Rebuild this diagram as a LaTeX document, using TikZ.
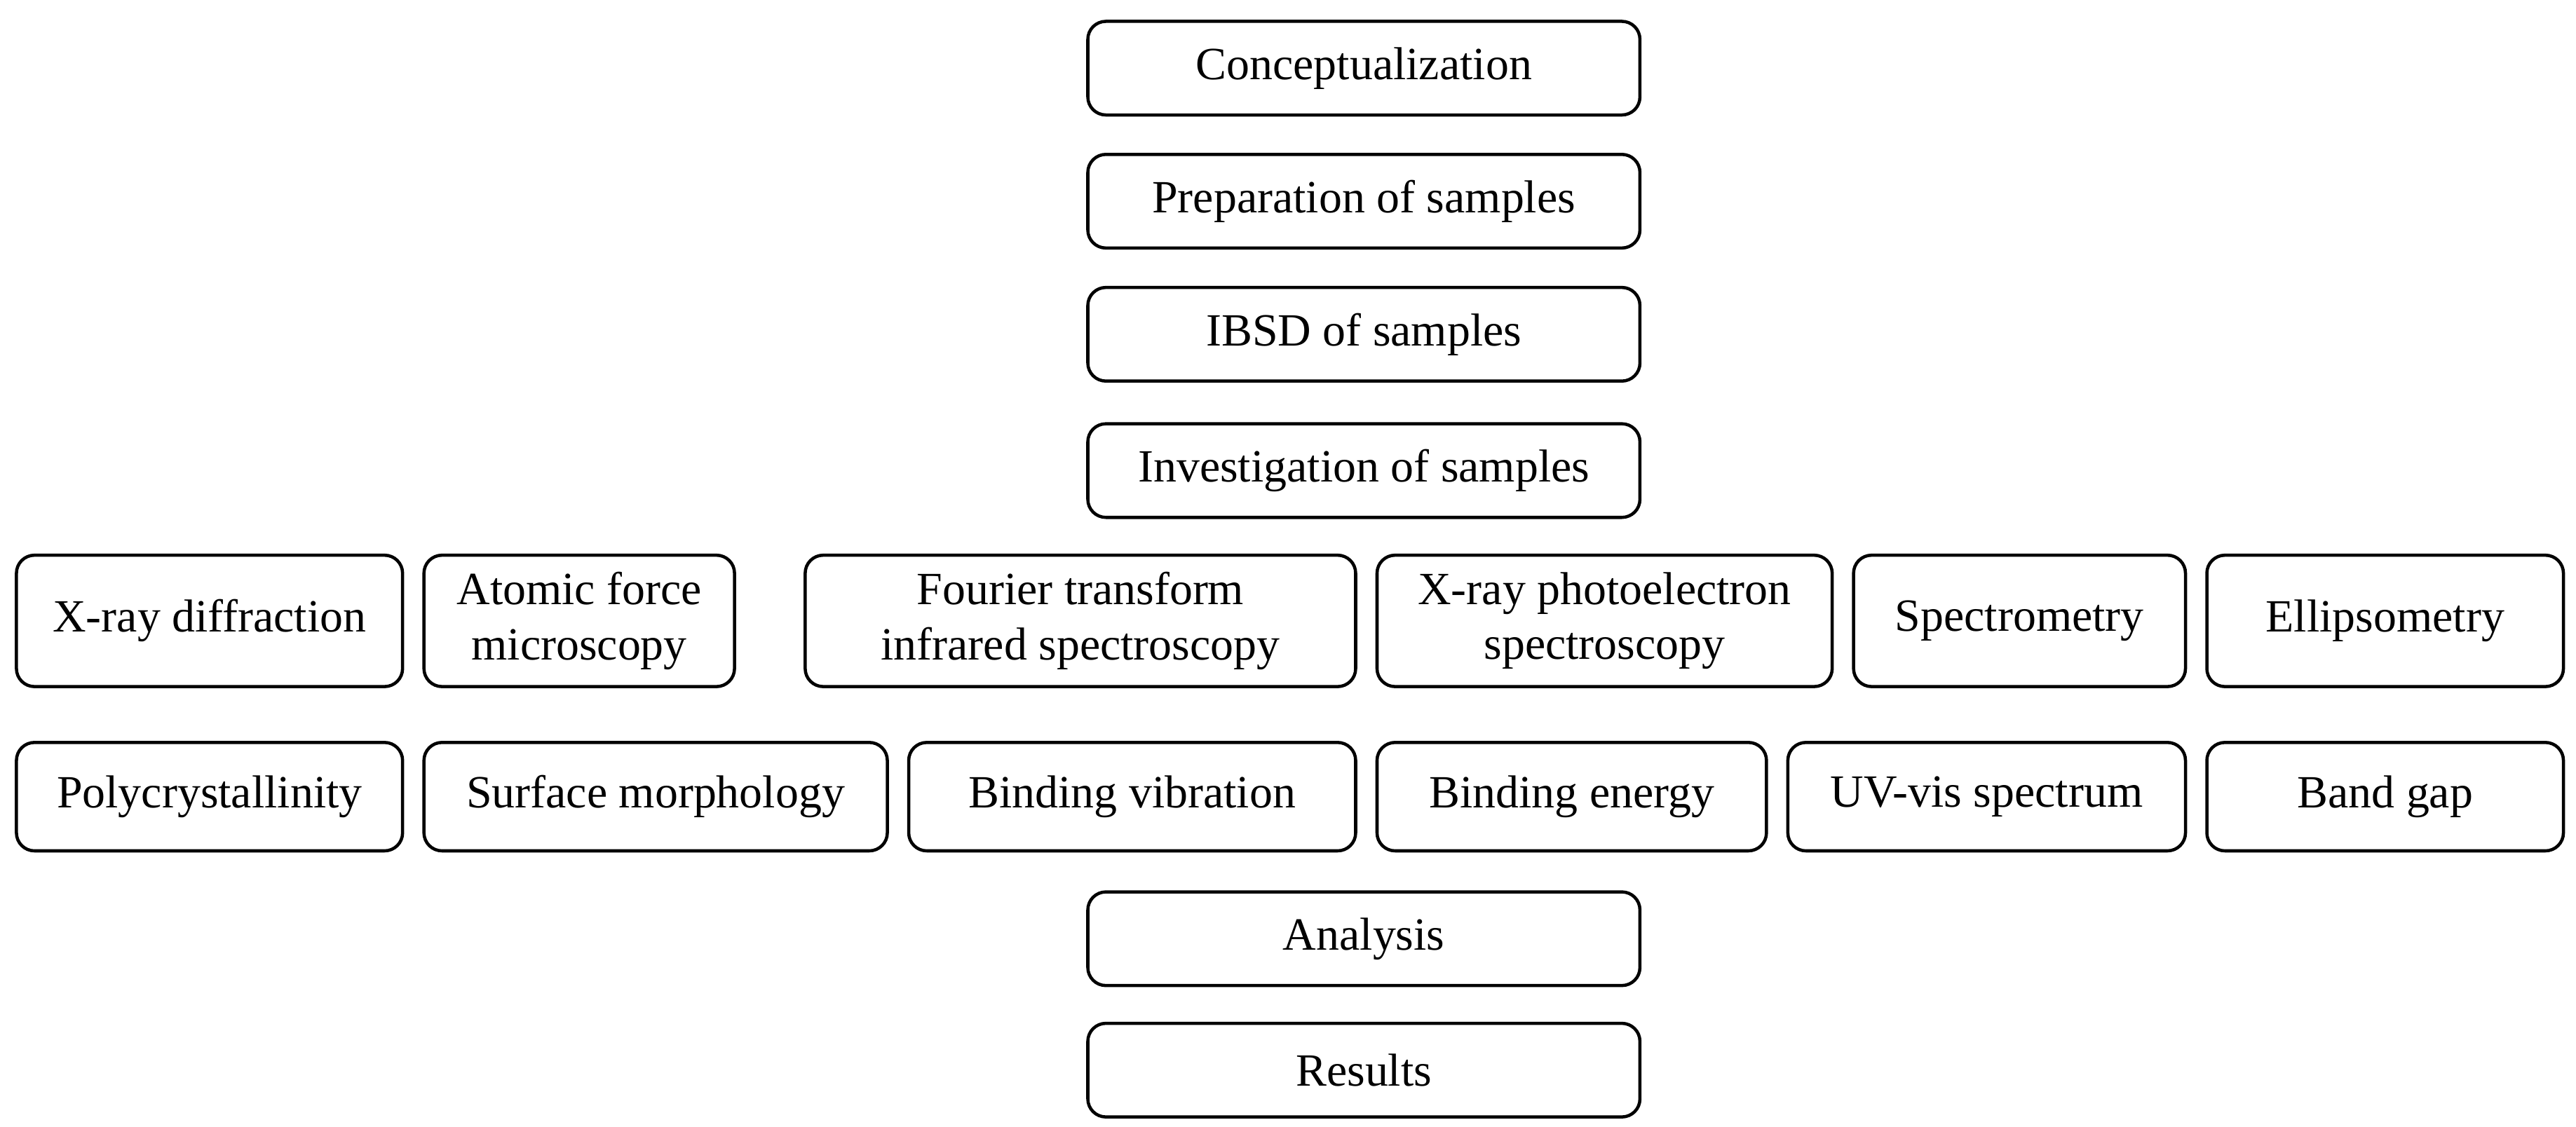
\documentclass[tikz,border=0pt]{standalone}
\usepackage{fontspec}
\setmainfont{Liberation Serif}
\newcommand\bx[6]{\node[box,minimum width={(#4-#2)*0.02cm},minimum height={(#5-#3)*0.02cm}] (#1) at ({(#2+#4)/2*0.02},{-(#3+#5)/2*0.02}) {#6};}
\begin{document}
\begin{tikzpicture}[box/.style={draw,line width=1.1pt,rounded corners=0.22cm,inner sep=2pt,align=center,font=\fontsize{16}{19}\selectfont}]
\useasboundingbox (0,0) rectangle (31.36,-13.72);
\bx{c}{662}{13}{998}{70}{Conceptualization}
\bx{p}{662}{94}{998}{151}{Preparation of samples}
\bx{i}{662}{175}{998}{232}{IBSD of samples}
\bx{v}{662}{258}{998}{315}{Investigation of samples}
\bx{a}{662}{543}{998}{600}{Analysis}
\bx{r}{662}{623}{998}{680}{Results}
\bx{m1}{10}{338}{245}{418}{X-ray diffraction}
\bx{m2}{258}{338}{447}{418}{Atomic force\\microscopy}
\bx{m3}{490}{338}{825}{418}{Fourier transform\\infrared spectroscopy}
\bx{m4}{838}{338}{1115}{418}{X-ray photoelectron\\spectroscopy}
\bx{m5}{1128}{338}{1330}{418}{Spectrometry}
\bx{m6}{1343}{338}{1560}{418}{Ellipsometry}
\bx{q1}{10}{452}{245}{518}{Polycrystallinity}
\bx{q2}{258}{452}{540}{518}{Surface morphology}
\bx{q3}{553}{452}{825}{518}{Binding vibration}
\bx{q4}{838}{452}{1075}{518}{Binding energy}
\bx{q5}{1088}{452}{1330}{518}{UV-vis spectrum}
\bx{q6}{1343}{452}{1560}{518}{Band gap}
\end{tikzpicture}
\end{document}
